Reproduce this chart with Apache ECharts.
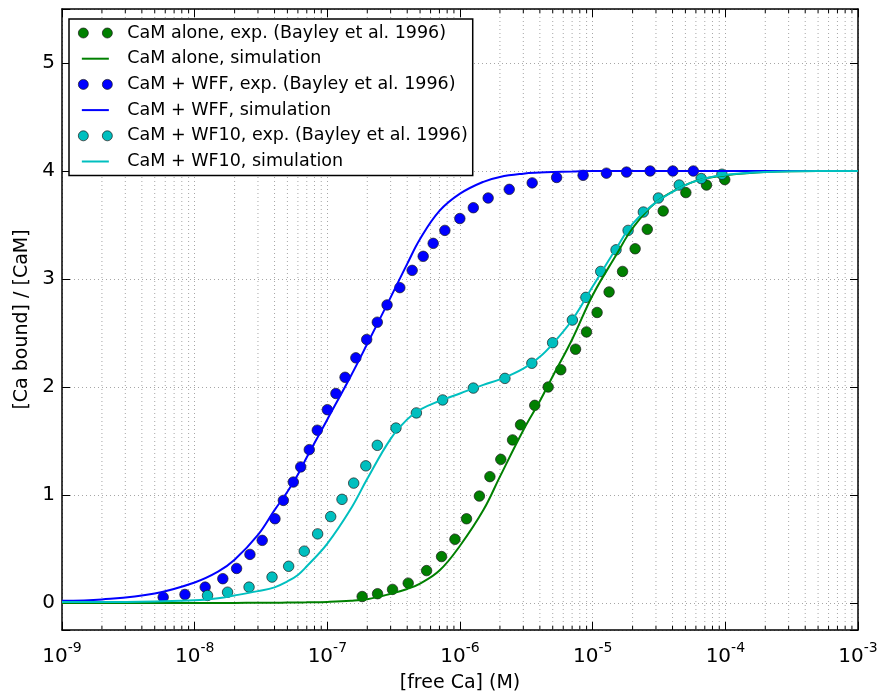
<!DOCTYPE html>
<html>
<head>
<meta charset="utf-8">
<script src="https://cdn.jsdelivr.net/npm/echarts@6/dist/echarts.min.js"></script>
<style>
    html, body {margin: 0; padding: 0; background: #fff;}
    #chart {width: 885px; height: 692px;}
</style>
</head>
<body>
<div id="chart"></div>
<script>
var greenExpX = [1.83e-7, 2.39e-7, 3.10e-7, 4.07e-7, 5.60e-7, 7.26e-7, 9.16e-7, 1.12e-6, 1.40e-6, 1.68e-6, 2.03e-6, 2.49e-6, 2.86e-6, 3.66e-6, 4.62e-6, 5.75e-6, 7.43e-6, 8.99e-6, 1.08e-5, 1.33e-5, 1.68e-5, 2.09e-5, 2.58e-5, 3.40e-5, 5.04e-5, 7.21e-5, 9.90e-5];
var greenExpY = [0.06, 0.086, 0.126, 0.184, 0.30, 0.43, 0.59, 0.78, 0.99, 1.17, 1.33, 1.51, 1.65, 1.83, 2.00, 2.16, 2.35, 2.51, 2.69, 2.88, 3.07, 3.28, 3.46, 3.63, 3.80, 3.87, 3.92];

var blueExpX = [5.79e-9, 8.45e-9, 1.20e-8, 1.63e-8, 2.07e-8, 2.61e-8, 3.23e-8, 4.03e-8, 4.66e-8, 5.54e-8, 6.30e-8, 7.31e-8, 8.40e-8, 1.00e-7, 1.16e-7, 1.36e-7, 1.64e-7, 1.98e-7, 2.38e-7, 2.82e-7, 3.52e-7, 4.36e-7, 5.28e-7, 6.28e-7, 7.69e-7, 9.97e-7, 1.26e-6, 1.63e-6, 2.35e-6, 3.50e-6, 5.35e-6, 8.47e-6, 1.27e-5, 1.80e-5, 2.71e-5, 4.02e-5, 5.74e-5];
var blueExpY = [0.054, 0.079, 0.147, 0.225, 0.32, 0.45, 0.58, 0.78, 0.95, 1.12, 1.26, 1.42, 1.60, 1.79, 1.94, 2.09, 2.27, 2.44, 2.60, 2.76, 2.92, 3.08, 3.21, 3.33, 3.45, 3.56, 3.66, 3.75, 3.83, 3.89, 3.94, 3.96, 3.98, 3.99, 4.0, 4.0, 4.0];

var cyanExpX = [1.25e-8, 1.77e-8, 2.57e-8, 3.83e-8, 5.11e-8, 6.70e-8, 8.45e-8, 1.06e-7, 1.29e-7, 1.58e-7, 1.95e-7, 2.38e-7, 3.29e-7, 4.69e-7, 7.40e-7, 1.26e-6, 2.18e-6, 3.48e-6, 4.99e-6, 7.03e-6, 8.89e-6, 1.15e-5, 1.50e-5, 1.85e-5, 2.41e-5, 3.13e-5, 4.49e-5, 6.58e-5, 9.42e-5];
var cyanExpY = [0.07, 0.10, 0.147, 0.24, 0.34, 0.48, 0.64, 0.80, 0.96, 1.11, 1.27, 1.46, 1.62, 1.76, 1.88, 1.99, 2.08, 2.22, 2.41, 2.62, 2.83, 3.07, 3.27, 3.45, 3.62, 3.75, 3.87, 3.93, 3.97];

// simulation curves, sampled at these concentrations
var simX = [1e-9, 2e-9, 5e-9, 1e-8, 1.5e-8, 2e-8, 3e-8, 4e-8, 5e-8, 6e-8, 7e-8, 1e-7, 1.5e-7, 2e-7, 3e-7, 4e-7, 5e-7, 7e-7, 1e-6, 1.5e-6, 2e-6, 3e-6, 4e-6, 5e-6, 7e-6, 1e-5, 1.5e-5, 2e-5, 3e-5, 5e-5, 7e-5, 1e-4, 2e-4, 5e-4, 1e-3];
var greenSimY = [0, 0, 0, 0, 0, 0.001, 0.002, 0.003, 0.004, 0.005, 0.006, 0.01, 0.02, 0.035, 0.085, 0.13, 0.18, 0.30, 0.53, 0.86, 1.17, 1.60, 1.87, 2.10, 2.44, 2.85, 3.22, 3.47, 3.71, 3.87, 3.93, 3.96, 3.99, 4.0, 4.0];
var blueSimY = [0.02, 0.033, 0.088, 0.19, 0.29, 0.40, 0.63, 0.86, 1.03, 1.19, 1.35, 1.70, 2.10, 2.40, 2.83, 3.14, 3.37, 3.63, 3.79, 3.90, 3.945, 3.975, 3.985, 3.99, 3.995, 4.0, 4.0, 4.0, 4.0, 4.0, 4.0, 4.0, 4.0, 4.0, 4.0];
var cyanSimY = [0.01, 0.01, 0.015, 0.025, 0.045, 0.07, 0.11, 0.145, 0.20, 0.26, 0.34, 0.55, 0.87, 1.15, 1.52, 1.70, 1.79, 1.87, 1.94, 2.02, 2.07, 2.17, 2.28, 2.40, 2.62, 2.93, 3.28, 3.51, 3.71, 3.87, 3.93, 3.965, 3.99, 4.0, 4.0];

// minor log ticks 2..9 per decade
var minorTicks = [];
for (var d = -9; d < -3; d++) {
    for (var m = 2; m <= 9; m++) {
        minorTicks.push(m * Math.pow(10, d));
    }
}

function pairs(xs, ys) {
    return xs.map(function (x, i) { return [x, ys[i]]; });
}

var twoDots = 'path://M0,5A5,5 0 1 1 10,5A5,5 0 1 1 0,5ZM24,5A5,5 0 1 1 34,5A5,5 0 1 1 24,5Z';
var shortLine = 'path://M0,0M34,10M3.5,4h27v2h-27z';
var edge = {borderColor: '#1a1a1a', borderWidth: 0.7};

var chart = echarts.init(document.getElementById('chart'));

var option = {
    animation: false,
    textStyle: {fontFamily: 'DejaVu Sans', color: '#000'},
    grid: {left: 62, right: 27, top: 9, bottom: 62, containLabel: false, outerBoundsMode: 'none'},
    legend: {
        orient: 'vertical',
        left: 69,
        top: 19,
        padding: [5, 5, 5, 9],
        itemWidth: 34,
        itemHeight: 10,
        itemGap: 7.7,
        backgroundColor: '#fff',
        borderColor: '#000',
        borderWidth: 1.5,
        textStyle: {fontSize: 17.5, lineHeight: 18, color: '#000', padding: [0, 0, 0, 10]},
        data: [
            {name: 'CaM alone, exp. (Bayley et al. 1996)', icon: twoDots, itemStyle: edge},
            {name: 'CaM alone, simulation', icon: shortLine, itemStyle: {borderWidth: 0}},
            {name: 'CaM + WFF, exp. (Bayley et al. 1996)', icon: twoDots, itemStyle: edge},
            {name: 'CaM + WFF, simulation', icon: shortLine, itemStyle: {borderWidth: 0}},
            {name: 'CaM + WF10, exp. (Bayley et al. 1996)', icon: twoDots, itemStyle: edge},
            {name: 'CaM + WF10, simulation', icon: shortLine, itemStyle: {borderWidth: 0}}
        ]
    },
    xAxis: [
        {
            type: 'log',
            logBase: 10,
            min: 1e-9,
            max: 1e-3,
            splitNumber: 6,
            name: '[free Ca] (M)',
            nameLocation: 'middle',
            nameGap: 44,
            nameTextStyle: {fontSize: 19, color: '#000'},
            axisLine: {onZero: false, lineStyle: {color: '#000', width: 1.5}},
            axisTick: {inside: true, length: 8, lineStyle: {color: '#000'}},
            splitLine: {show: true, lineStyle: {color: '#a6a6a6', type: [1, 3]}},
            axisLabel: {
                margin: 9,
                formatter: function (v) {
                    var e = Math.round(Math.log10(v));
                    return '{b|10}{s|' + e + '}';
                },
                rich: {
                    b: {fontSize: 20, color: '#000', padding: [8, 0, 0, 0]},
                    s: {fontSize: 14, color: '#000', padding: [0, 0, 10, 0]}
                }
            }
        },
        {
            type: 'log',
            logBase: 10,
            min: 1e-9,
            max: 1e-3,
            splitNumber: 6,
            position: 'top',
            axisLine: {onZero: false, lineStyle: {color: '#000', width: 1.5}},
            axisTick: {inside: true, length: 8, lineStyle: {color: '#000'}},
            axisLabel: {show: false},
            splitLine: {show: false}
        }
    ],
    yAxis: [
        {
            type: 'value',
            min: -0.25,
            max: 5.5,
            name: '[Ca bound] / [CaM]',
            nameLocation: 'middle',
            nameGap: 27,
            nameTextStyle: {fontSize: 19, color: '#000'},
            axisLine: {show: true, onZero: false, lineStyle: {color: '#000', width: 1.5}},
            axisTick: {show: true, inside: true, length: 8, lineStyle: {color: '#000'}},
            splitLine: {show: true, lineStyle: {color: '#a6a6a6', type: [1, 3]}},
            axisLabel: {
                fontSize: 20,
                color: '#000',
                margin: 7,
                formatter: function (v) {
                    return Math.abs(v - Math.round(v)) < 1e-9 ? String(Math.round(v)) : '';
                }
            }
        },
        {
            type: 'value',
            min: -0.25,
            max: 5.5,
            position: 'right',
            axisLine: {show: true, onZero: false, lineStyle: {color: '#000', width: 1.5}},
            axisTick: {show: true, inside: true, length: 8, lineStyle: {color: '#000'}},
            axisLabel: {show: false},
            splitLine: {show: false}
        }
    ],
    series: [
        {
            // minor log grid lines and ticks
            type: 'custom',
            z: 1,
            silent: true,
            data: minorTicks.map(function (v) { return [v, 1]; }),
            renderItem: function (params, api) {
                var x = api.coord([api.value(0), 1])[0];
                var r = params.coordSys;
                return {
                    type: 'group',
                    children: [
                        {type: 'line', shape: {x1: x, y1: r.y, x2: x, y2: r.y + r.height}, style: {stroke: '#a6a6a6', lineWidth: 1, lineDash: [1, 3]}},
                        {type: 'line', shape: {x1: x, y1: r.y + r.height, x2: x, y2: r.y + r.height - 4}, style: {stroke: '#000', lineWidth: 1}},
                        {type: 'line', shape: {x1: x, y1: r.y, x2: x, y2: r.y + 4}, style: {stroke: '#000', lineWidth: 1}}
                    ]
                };
            }
        },
        {
            name: 'CaM alone, exp. (Bayley et al. 1996)',
            type: 'scatter',
            symbolSize: 10.5,
            itemStyle: {color: '#008000', borderColor: '#1a1a1a', borderWidth: 0.7, opacity: 1},
            data: pairs(greenExpX, greenExpY)
        },
        {
            name: 'CaM alone, simulation',
            type: 'line',
            smooth: 0.4,
            symbol: 'none',
            itemStyle: {color: '#008000'},
            lineStyle: {color: '#008000', width: 2},
            data: pairs(simX, greenSimY)
        },
        {
            name: 'CaM + WFF, exp. (Bayley et al. 1996)',
            type: 'scatter',
            symbolSize: 10.5,
            itemStyle: {color: '#0000ff', borderColor: '#1a1a1a', borderWidth: 0.7, opacity: 1},
            data: pairs(blueExpX, blueExpY)
        },
        {
            name: 'CaM + WFF, simulation',
            type: 'line',
            smooth: 0.4,
            symbol: 'none',
            itemStyle: {color: '#0000ff'},
            lineStyle: {color: '#0000ff', width: 2},
            data: pairs(simX, blueSimY)
        },
        {
            name: 'CaM + WF10, exp. (Bayley et al. 1996)',
            type: 'scatter',
            symbolSize: 10.5,
            itemStyle: {color: '#00bfbf', borderColor: '#1a1a1a', borderWidth: 0.7, opacity: 1},
            data: pairs(cyanExpX, cyanExpY)
        },
        {
            name: 'CaM + WF10, simulation',
            type: 'line',
            smooth: 0.4,
            symbol: 'none',
            itemStyle: {color: '#00bfbf'},
            lineStyle: {color: '#00bfbf', width: 2},
            data: pairs(simX, cyanSimY)
        }
    ]
};

chart.setOption(option);
</script>
</body>
</html>
